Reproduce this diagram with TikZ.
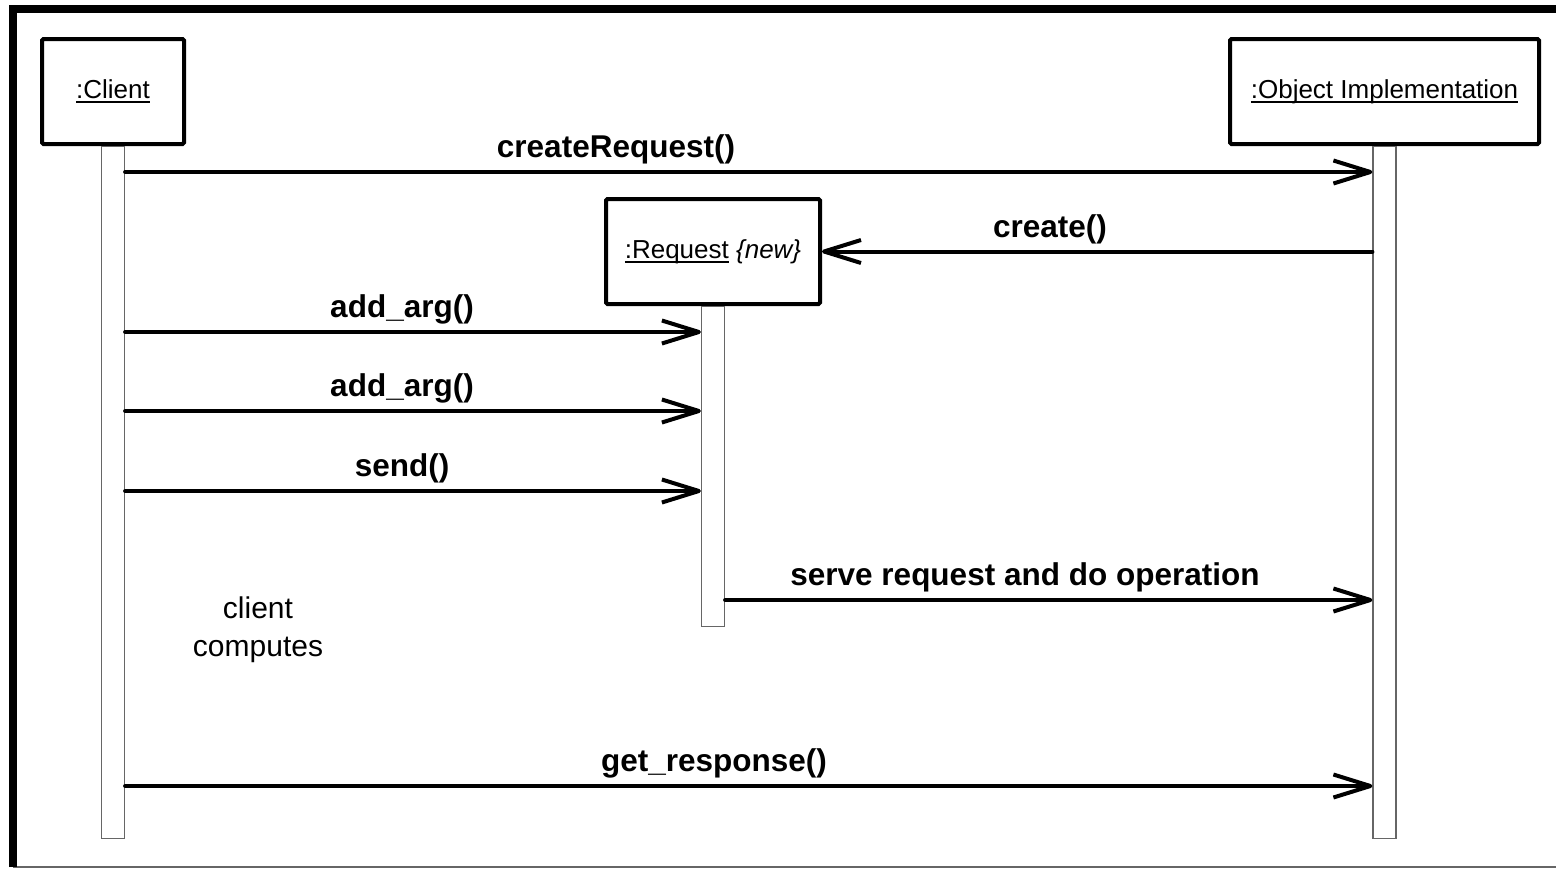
\documentclass[tikz,border=0pt]{standalone}
\usepackage{fontspec}
\setmainfont{Liberation Sans}
\usetikzlibrary{arrows.meta}
% underlined object name
\newcommand\objname[1]{\setbox0\hbox{#1}\rlap{\rule[-5pt]{\wd0}{2.6pt}}\box0}
\tikzset{
  objbox/.style={draw, line width=4pt, rounded corners=1.5pt, fill=white, inner sep=0pt,
    minimum height=105pt, font=\fontsize{26}{30}\selectfont},
  lifebar/.style={draw=black!60, line width=1.2pt, fill=white, minimum width=23pt, inner sep=0pt, anchor=north},
  msg/.style={line width=4pt, line cap=round, -{Straight Barb[length=37pt,width=23pt,line join=round]}},
  msglabel/.style={anchor=base, font=\fontsize{31.5}{36}\selectfont\bfseries, inner sep=0pt},
  note/.style={align=center, font=\fontsize{30}{38}\selectfont, inner sep=0pt}
}
\begin{document}
\begin{tikzpicture}[x=1pt,y=-1pt]
\useasboundingbox (0,0) rectangle (1556,868);
% outer frame
\draw[black!60, line width=2pt] (13,867) -- (1556,867);
\draw[line width=8pt] (13,867) -- (13,8.5) -- (1570,8.5);

% objects
\node[objbox, minimum width=142pt] (client) at (113,91.5) {\objname{:Client}};
\node[objbox, minimum width=309pt] (impl) at (1384.5,91.5) {\objname{:Object Implementation}};
\node[objbox, minimum width=214pt] (req) at (713,251.5) {\objname{:Request}\ {\itshape\{new\}}};

% lifelines
\node[lifebar, minimum height=692pt] (cl) at (client.south) {};
\node[lifebar, minimum height=692pt] (ol) at (impl.south) {};
\node[lifebar, minimum height=320pt] (rl) at (req.south) {};

% message heights
\coordinate (m1) at (0,172);
\coordinate (m3) at (0,332);
\coordinate (m4) at (0,411);
\coordinate (m5) at (0,491);
\coordinate (m6) at (0,600);
\coordinate (m7) at (0,786);

% messages
\draw[msg] (cl.east |- m1) -- (ol.west |- m1);
\node[msglabel] (l1) at (616,157) {createRequest()};
\draw[msg] (ol.west |- req.east) -- (req.east);
\node[msglabel] (l2) at (1050,237) {create()};
\draw[msg] (cl.east |- m3) -- (rl.west |- m3);
\node[msglabel] (l3) at (402,317) {add\_arg()};
\draw[msg] (cl.east |- m4) -- (rl.west |- m4);
\node[msglabel] (l4) at (402,396) {add\_arg()};
\draw[msg] (cl.east |- m5) -- (rl.west |- m5);
\node[msglabel] (l5) at (402,476) {send()};
\draw[msg] (rl.east |- m6) -- (ol.west |- m6);
\node[msglabel] (l6) at (1025,585) {serve request and do operation};
\draw[msg] (cl.east |- m7) -- (ol.west |- m7);
\node[msglabel] (l7) at (714,771) {get\_response()};

\node[note] (computes) at (258,630) {client\\computes};
\end{tikzpicture}
\end{document}
